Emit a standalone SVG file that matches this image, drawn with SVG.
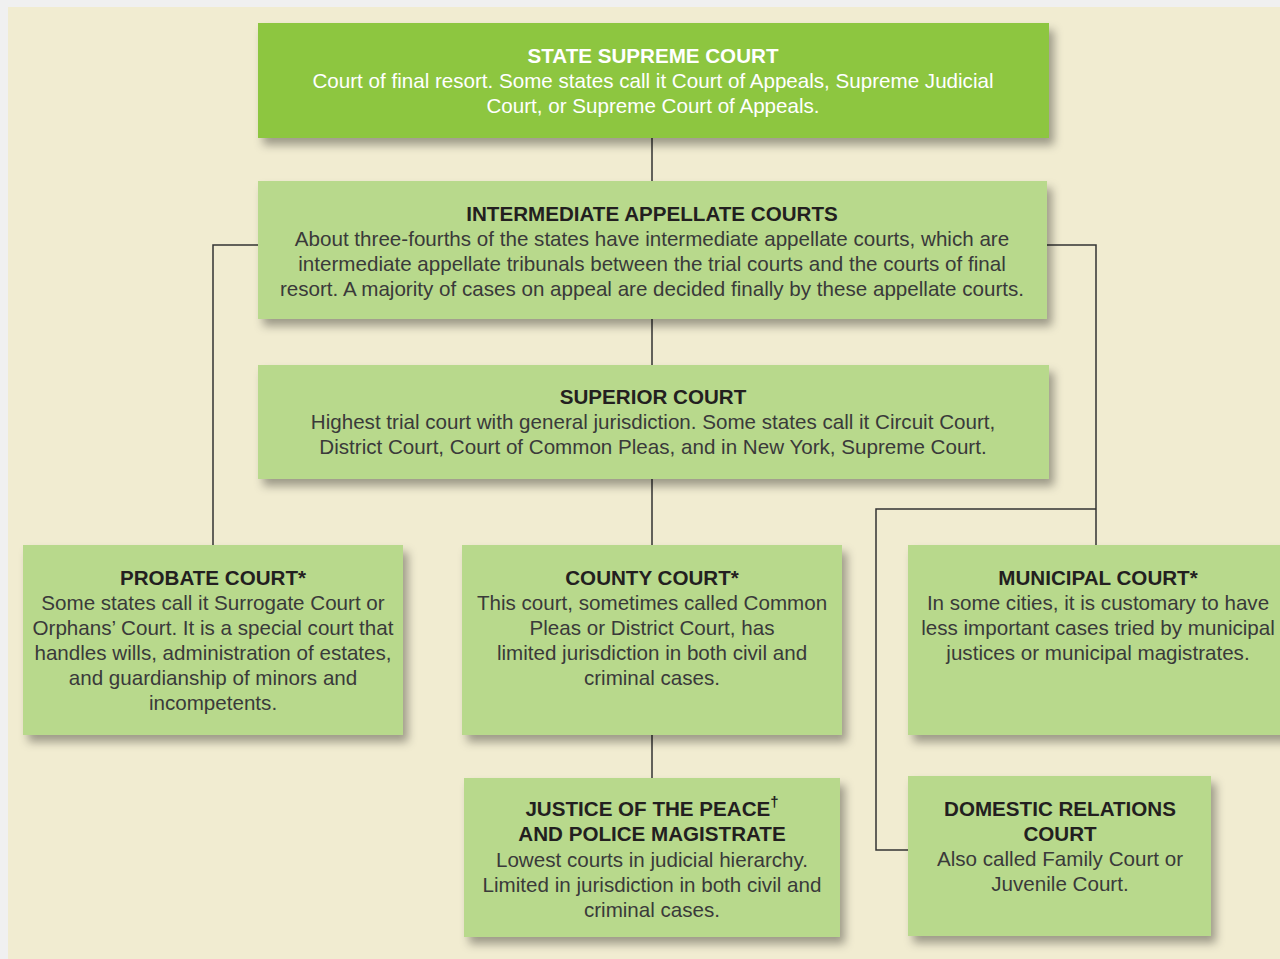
<svg xmlns="http://www.w3.org/2000/svg" width="1280" height="959" viewBox="0 0 1280 959">
<defs>
<filter id="sh" x="-10%" y="-20%" width="130%" height="150%">
<feDropShadow dx="5" dy="7" stdDeviation="5" flood-color="#000" flood-opacity="0.35"/>
</filter>
<style>
.box{fill:#b8d98c;filter:url(#sh)}
.top{fill:#8dc63f;filter:url(#sh)}
.t{font-family:"Liberation Sans",Arial,sans-serif;font-size:20.6px;font-weight:bold;fill:#231f20;text-anchor:middle}
.b{font-family:"Liberation Sans",Arial,sans-serif;font-size:20.6px;fill:#3a3a3a;text-anchor:middle}
.w{fill:#fff}
.tw{fill:#fff}
.c{fill:none;stroke:#333;stroke-width:1.5}
</style>
</defs>
<rect x="0" y="0" width="1280" height="959" fill="#f0f0f0"/>
<rect x="8" y="7" width="1272" height="952" fill="#f1ecd1"/>
<g id="connectors">
<path class="c" d="M652 138V181M652 319V365M652 479V545M652 735V778"/>
<path class="c" d="M258 245H213V545"/>
<path class="c" d="M1047 245H1096V545"/>
<path class="c" d="M1096 509H876V850H908"/>
</g>
<g id="state-supreme">
<rect class="top" x="258" y="23" width="791" height="115"/>
<text class="t tw" x="653" y="63">STATE SUPREME COURT</text>
<text class="b w" x="653" y="88">Court of final resort. Some states call it Court of Appeals, Supreme Judicial</text>
<text class="b w" x="653" y="113">Court, or Supreme Court of Appeals.</text>
</g>
<g id="intermediate">
<rect class="box" x="258" y="181" width="789" height="138"/>
<text class="t" x="652" y="221">INTERMEDIATE APPELLATE COURTS</text>
<text class="b" x="652" y="246">About three-fourths of the states have intermediate appellate courts, which are</text>
<text class="b" x="652" y="271">intermediate appellate tribunals between the trial courts and the courts of final</text>
<text class="b" x="652" y="296">resort. A majority of cases on appeal are decided finally by these appellate courts.</text>
</g>
<g id="superior">
<rect class="box" x="258" y="365" width="791" height="114"/>
<text class="t" x="653" y="404">SUPERIOR COURT</text>
<text class="b" x="653" y="429">Highest trial court with general jurisdiction. Some states call it Circuit Court,</text>
<text class="b" x="653" y="454">District Court, Court of Common Pleas, and in New York, Supreme Court.</text>
</g>
<g id="probate">
<rect class="box" x="23" y="545" width="380" height="190"/>
<text class="t" x="213" y="585">PROBATE COURT*</text>
<text class="b" x="213" y="610">Some states call it Surrogate Court or</text>
<text class="b" x="213" y="635">Orphans’ Court. It is a special court that</text>
<text class="b" x="213" y="660">handles wills, administration of estates,</text>
<text class="b" x="213" y="685">and guardianship of minors and</text>
<text class="b" x="213" y="710">incompetents.</text>
</g>
<g id="county">
<rect class="box" x="462" y="545" width="380" height="190"/>
<text class="t" x="652" y="585">COUNTY COURT*</text>
<text class="b" x="652" y="610">This court, sometimes called Common</text>
<text class="b" x="652" y="635">Pleas or District Court, has</text>
<text class="b" x="652" y="660">limited jurisdiction in both civil and</text>
<text class="b" x="652" y="685">criminal cases.</text>
</g>
<g id="municipal">
<rect class="box" x="908" y="545" width="380" height="190"/>
<text class="t" x="1098" y="585">MUNICIPAL COURT*</text>
<text class="b" x="1098" y="610">In some cities, it is customary to have</text>
<text class="b" x="1098" y="635">less important cases tried by municipal</text>
<text class="b" x="1098" y="660">justices or municipal magistrates.</text>
</g>
<g id="justice">
<rect class="box" x="464" y="778" width="376" height="159"/>
<text class="t" x="652" y="816">JUSTICE OF THE PEACE<tspan font-size="15" dy="-9">†</tspan></text>
<text class="t" x="652" y="841">AND POLICE MAGISTRATE</text>
<text class="b" x="652" y="867">Lowest courts in judicial hierarchy.</text>
<text class="b" x="652" y="892">Limited in jurisdiction in both civil and</text>
<text class="b" x="652" y="917">criminal cases.</text>
</g>
<g id="domestic">
<rect class="box" x="908" y="776" width="303" height="160"/>
<text class="t" x="1060" y="816">DOMESTIC RELATIONS</text>
<text class="t" x="1060" y="841">COURT</text>
<text class="b" x="1060" y="866">Also called Family Court or</text>
<text class="b" x="1060" y="891">Juvenile Court.</text>
</g>
</svg>
